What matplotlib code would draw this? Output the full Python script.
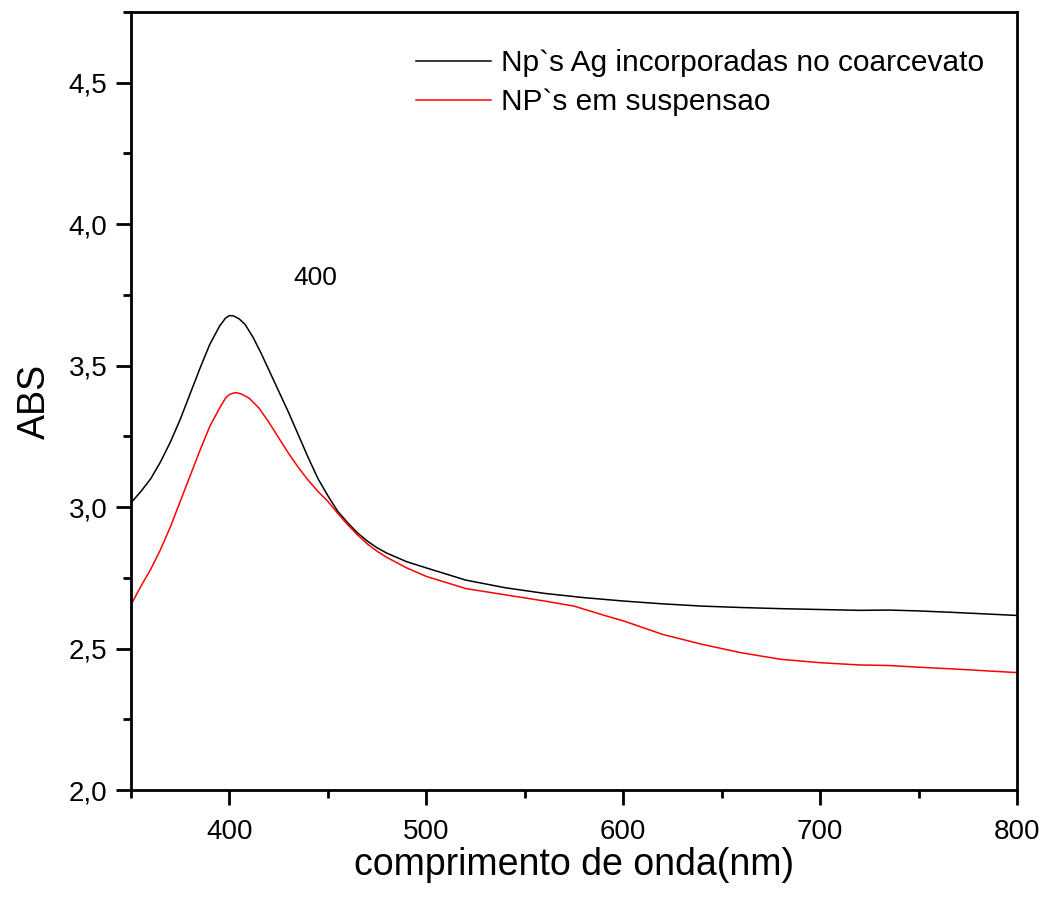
import matplotlib
matplotlib.use("Agg")
import matplotlib.pyplot as plt
from matplotlib.ticker import MultipleLocator, FuncFormatter

plt.rcParams["font.family"] = ["Liberation Sans", "DejaVu Sans"]

# wavelength (nm) / absorbance
wl_ag = [350, 355, 360, 365, 370, 375, 380, 385, 390, 395, 398, 400, 402, 405,
         408, 412, 416, 420, 425, 430, 435, 440, 445, 450, 455, 460, 465, 470,
         475, 480, 490, 500, 520, 540, 560, 580, 600, 620, 640, 660, 680, 700,
         720, 735, 750, 770, 800]
abs_ag = [3.015, 3.055, 3.10, 3.16, 3.23, 3.31, 3.40, 3.49, 3.575, 3.64, 3.668,
          3.677, 3.676, 3.665, 3.645, 3.60, 3.545, 3.485, 3.41, 3.335, 3.255,
          3.175, 3.10, 3.04, 2.985, 2.945, 2.909, 2.880, 2.856, 2.837, 2.807,
          2.785, 2.742, 2.715, 2.695, 2.68, 2.668, 2.658, 2.650, 2.645, 2.641,
          2.638, 2.635, 2.636, 2.633, 2.627, 2.617]

wl_susp = [350, 355, 360, 365, 370, 375, 380, 385, 390, 395, 398, 400, 403, 406,
           410, 415, 420, 425, 430, 435, 440, 445, 450, 455, 460, 465, 470, 475,
           480, 490, 500, 520, 540, 560, 575, 590, 600, 620, 640, 660, 680, 700,
           720, 735, 750, 770, 800]
abs_susp = [2.655, 2.72, 2.78, 2.85, 2.93, 3.02, 3.11, 3.20, 3.285, 3.35, 3.385,
            3.398, 3.405, 3.40, 3.385, 3.35, 3.30, 3.245, 3.19, 3.14, 3.095,
            3.055, 3.02, 2.978, 2.938, 2.902, 2.870, 2.844, 2.822, 2.785, 2.755,
            2.712, 2.690, 2.668, 2.650, 2.618, 2.598, 2.55, 2.515, 2.485, 2.462,
            2.45, 2.442, 2.440, 2.434, 2.427, 2.415]

labels = ["Np`s Ag incorporadas no coarcevato", "NP`s em suspensao"]

fig = plt.figure(figsize=(10.46, 9.10), dpi=100)
ax = fig.add_axes([131 / 1046, 120 / 910, 886 / 1046, 778 / 910])

ax.plot(wl_ag, abs_ag, color="black", lw=1.1, label=labels[0])
ax.plot(wl_susp, abs_susp, color="red", lw=1.1, label=labels[1])

ax.set_xlim(350, 800)
ax.set_ylim(2.0, 4.75)
ax.xaxis.set_major_locator(MultipleLocator(100))
ax.xaxis.set_minor_locator(MultipleLocator(50))
ax.yaxis.set_major_locator(MultipleLocator(0.5))
ax.yaxis.set_minor_locator(MultipleLocator(0.25))
ax.yaxis.set_major_formatter(FuncFormatter(lambda v, p: f"{v:.1f}".replace(".", ",")))

ax.tick_params(which="both", direction="out", top=False, right=False, width=2,
               labelsize=20)
ax.tick_params(which="major", length=11, pad=10)
ax.tick_params(axis="y", which="major", pad=6)
ax.tick_params(which="minor", length=6)
for s in ax.spines.values():
    s.set_linewidth(2)

ax.set_xlabel("comprimento de onda(nm)", fontsize=27, labelpad=1)
ax.set_ylabel("ABS", fontsize=27, labelpad=11)

ax.text(443.5, 3.81, "400", fontsize=19, ha="center", va="center")

ax.legend(loc="upper left", bbox_to_anchor=(0.322, 0.952), frameon=False,
          fontsize=21.5, handlelength=2.5, handletextpad=0.35, labelspacing=0.37,
          borderpad=0, borderaxespad=0)

fig.savefig("out.png", dpi=100)
